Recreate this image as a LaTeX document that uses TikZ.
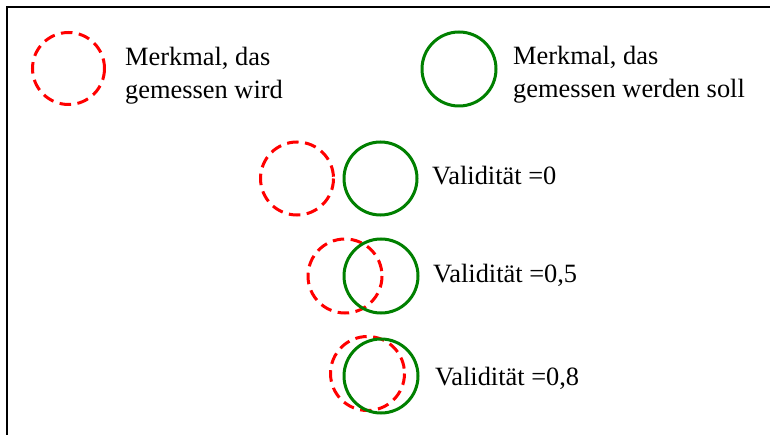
\documentclass[tikz,border=0pt]{standalone}
\usepackage{fontspec}
\setmainfont{Liberation Serif}
\begin{document}
\begin{tikzpicture}[x=1pt,y=-1pt,
  meas/.style={draw=red,dash pattern=on 11.5pt off 6.5pt,line width=3pt},
  target/.style={draw={rgb,255:red,0;green,128;blue,0},line width=3pt},
  lbl/.style={anchor=base west,inner sep=0pt,align=left,font=\fontsize{26.4}{33}\selectfont}]
\useasboundingbox (0,0) rectangle (770,435);
\draw[line width=2pt] (7,435) -- (7,7) -- (770,7);
% legend
\draw[meas] (68.5,68.5) circle (36);
\node[lbl] (l1) at (125,99) {Merkmal, das\\gemessen wird};
\draw[target] (459,69) circle (37);
\node[lbl] (l2) at (513,98) {Merkmal, das\\gemessen werden soll};
% row 1
\draw[meas] (297,178.5) circle (36.5);
\draw[target] (380.5,178.5) circle (36.5);
\node[lbl] (v0) at (432,185) {Validität =0};
% row 2
\draw[meas] (345,276) circle (37);
\draw[target] (381,276) circle (37);
\node[lbl] (v5) at (433,283) {Validität =0,5};
% row 3
\draw[meas] (367.5,373.5) circle (37);
\draw[target] (381,376) circle (37);
\node[lbl] (v8) at (435,385) {Validität =0,8};
\end{tikzpicture}
\end{document}
